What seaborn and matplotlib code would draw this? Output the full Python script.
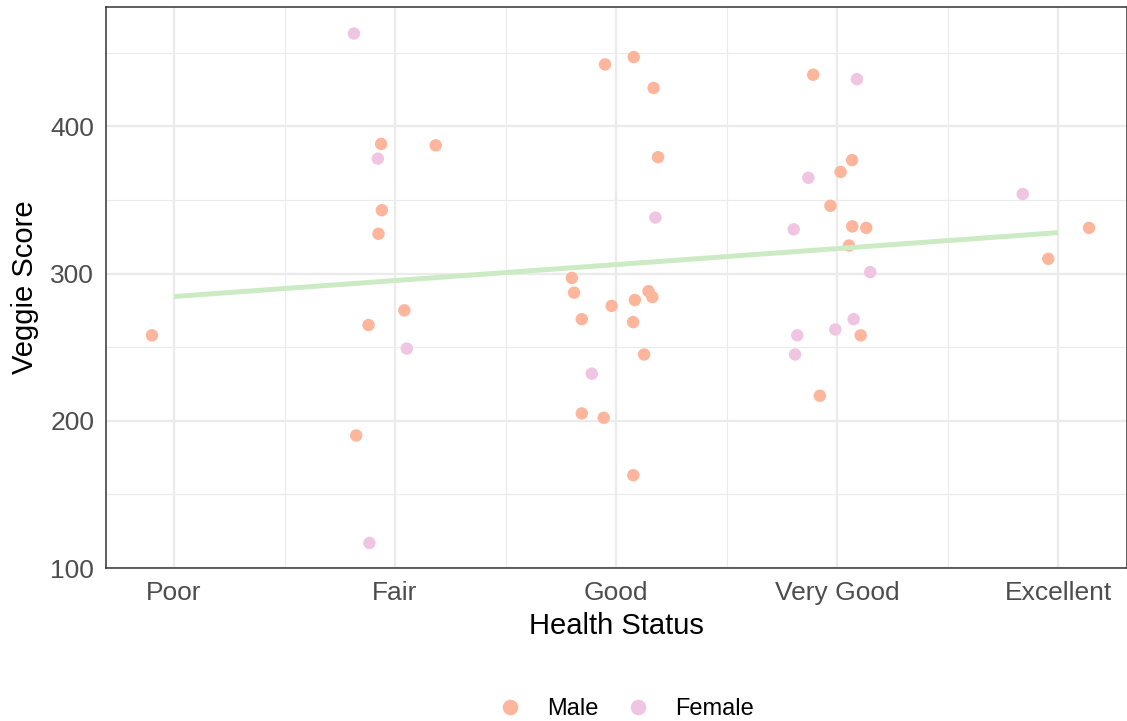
import numpy as np
import pandas as pd
import matplotlib
matplotlib.use("Agg")
import matplotlib.pyplot as plt
import seaborn as sns

# ---------------- data ----------------
categories = ["Poor", "Fair", "Good", "Very Good", "Excellent"]

health = (["Poor"] * 1 + ["Fair"] * 11 + ["Good"] * 18 +
          ["Very Good"] * 17 + ["Excellent"] * 3)

sex = (
    ["Male"] +
    ["Female", "Male", "Male", "Female", "Male", "Male", "Male", "Male", "Female", "Male", "Female"] +
    ["Male", "Male", "Male", "Male", "Female", "Male", "Male", "Male", "Male", "Male", "Male", "Male",
     "Male", "Male", "Female", "Male", "Male", "Male"] +
    ["Male", "Female", "Male", "Male", "Female", "Male", "Female", "Male", "Male", "Male", "Female",
     "Female", "Female", "Male", "Female", "Female", "Male"] +
    ["Female", "Male", "Male"]
)

score = (
    [258] +
    [463, 388, 387, 378, 343, 327, 275, 265, 249, 190, 117] +
    [442, 447, 426, 379, 338, 297, 287, 269, 278, 282, 288, 284, 267, 245, 232, 205, 202, 163] +
    [435, 432, 377, 369, 365, 346, 330, 332, 331, 319, 301, 269, 262, 258, 258, 245, 217] +
    [354, 331, 310]
)

# horizontal jitter offsets
jitter = (
    [-0.10] +
    [-0.186, -0.063, 0.184, -0.078, -0.060, -0.075, 0.042, -0.120, 0.053, -0.176, -0.116] +
    [-0.050, 0.080, 0.170, 0.190, 0.178, -0.200, -0.190, -0.155, -0.020, 0.085, 0.147, 0.164,
     0.077, 0.127, -0.110, -0.155, -0.056, 0.078] +
    [-0.108, 0.090, 0.068, 0.016, -0.130, -0.030, -0.196, 0.069, 0.132, 0.054, 0.150, 0.075,
     -0.008, 0.107, -0.180, -0.190, -0.078] +
    [-0.160, 0.140, -0.044]
)

sex_order = ["Male", "Female"]
palette = {"Male": "#FDB59C", "Female": "#EFC5E1"}
line_color = "#CCEBC5"

df = pd.DataFrame({"health": health, "sex": sex, "score": score, "jitter": jitter})
df["code"] = df["health"].map({c: i for i, c in enumerate(categories)})
df["xpos"] = df["code"] + df["jitter"]

# ---------------- style ----------------
sns.set_style("white")
plt.rcParams["font.family"] = ["Liberation Sans", "DejaVu Sans"]

W, H = 1127, 721
fig = plt.figure(figsize=(W / 100, H / 100), dpi=100)
ax = fig.add_axes([106 / W, 1 - 568 / H, (W - 106) / W, 561 / H])

sns.scatterplot(data=df, x="xpos", y="score", hue="sex", hue_order=sex_order,
                palette=palette, s=80, linewidth=0, ax=ax, zorder=3)
sns.regplot(data=df, x="code", y="score", scatter=False, ci=None, truncate=True,
            line_kws=dict(color=line_color, lw=3.6, zorder=4, solid_capstyle="butt"), ax=ax)

ax.set_xlim(-0.308, 4.312)
ax.set_ylim(100, 481)

ax.set_xticks(range(len(categories)))
ax.set_xticklabels(categories)
ax.set_xticks([0.5, 1.5, 2.5, 3.5], minor=True)
ax.set_yticks([100, 200, 300, 400])
ax.set_yticks([150, 250, 350, 450], minor=True)

ax.grid(which="major", color="#EBEBEB", lw=1.6)
ax.grid(which="minor", color="#EBEBEB", lw=0.8)
ax.set_axisbelow(True)

for sp in ax.spines.values():
    sp.set_visible(True)
    sp.set_color("#333333")
    sp.set_linewidth(1.1)

ax.tick_params(which="major", length=3.5, width=1.1, color="#333333",
               labelsize=19, labelcolor="#4D4D4D")
ax.tick_params(axis="x", which="major", pad=6)
ax.tick_params(axis="y", which="major", pad=5)
ax.tick_params(which="minor", length=0)

ax.set_xlabel("Health Status", fontsize=21, color="black", labelpad=5)
ax.set_ylabel("Veggie Score", fontsize=21, color="black", labelpad=8)

sns.move_legend(ax, loc="center", bbox_to_anchor=(626 / W, 1 - 709 / H),
                bbox_transform=fig.transFigure, ncol=2, title=None, frameon=False,
                fontsize=17, handlelength=1.0, handletextpad=1.1, columnspacing=1.15,
                borderpad=0, markerscale=1.25, labelcolor="black")

fig.savefig("out.png", dpi=100, facecolor="white")
